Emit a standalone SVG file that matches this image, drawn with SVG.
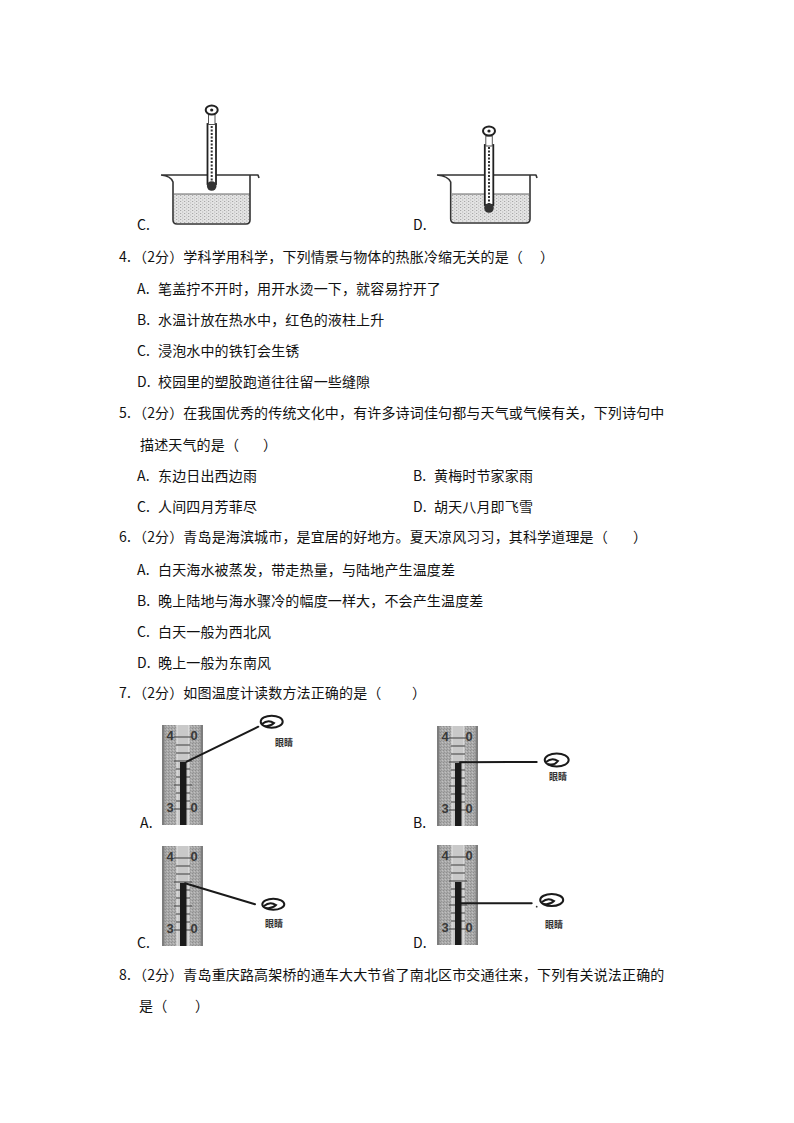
<svg xmlns="http://www.w3.org/2000/svg" width="794" height="1123" viewBox="0 0 794 1123">
<style>
.t{font-family:'Noto Sans CJK SC','Noto Sans CJK JP',sans-serif;font-size:14px;fill:#111;letter-spacing:0.15px}
.eye-l{font-family:'Noto Sans CJK SC',sans-serif;font-size:9px;font-weight:bold;fill:#333}
.dig{font-family:'Liberation Sans',sans-serif;font-size:13px;font-weight:bold;fill:#3a3a3a}
.ln{stroke:#1a1a1a;stroke-width:2;fill:none;stroke-linecap:round}
.eye{stroke:#1a1a1a;stroke-width:2;fill:none}
.bk{stroke:#333;stroke-width:1.6;fill:none;stroke-linejoin:round}
</style>
<defs>
<pattern id="liq" width="4" height="3" patternUnits="userSpaceOnUse">
<rect width="4" height="3" fill="#e4e4e4"/>
<rect x="0" y="0" width="1.2" height="1" fill="#a8a8a8"/>
<rect x="2" y="1.5" width="1.2" height="1" fill="#b8b8b8"/>
</pattern>
<pattern id="grain" width="3" height="3" patternUnits="userSpaceOnUse">
<rect width="3" height="3" fill="#a9a9a9"/>
<rect x="0" y="0" width="1" height="1" fill="#8e8e8e"/>
<rect x="2" y="1" width="1" height="1" fill="#c0c0c0"/>
<rect x="1" y="2" width="1" height="1" fill="#969696"/>
</pattern>
<g id="strip">
<rect x="0" y="0" width="41" height="100" fill="url(#grain)"/>
<rect x="0" y="0" width="2.5" height="100" fill="#7d7d7d"/>
<rect x="38.5" y="0" width="2.5" height="100" fill="#7d7d7d"/>
<rect x="15" y="0" width="12" height="100" fill="#c9c9c9"/>
<line x1="15" y1="0" x2="15" y2="100" stroke="#e6e6e6" stroke-width="1"/>
<line x1="27" y1="0" x2="27" y2="100" stroke="#e6e6e6" stroke-width="1"/>
<g stroke="#555" stroke-width="1.2">
<line x1="12" y1="12" x2="30" y2="12"/>
<line x1="14" y1="20" x2="28" y2="20"/>
<line x1="14" y1="28" x2="28" y2="28"/>
<line x1="12" y1="36" x2="30" y2="36"/>
<line x1="14" y1="44" x2="28" y2="44"/>
<line x1="14" y1="52" x2="28" y2="52"/>
<line x1="12" y1="60" x2="30" y2="60"/>
<line x1="14" y1="68" x2="28" y2="68"/>
<line x1="14" y1="76" x2="28" y2="76"/>
<line x1="12" y1="84" x2="30" y2="84"/>
</g>
<rect x="18" y="37" width="6.5" height="63" fill="#1a1a1a"/>
<text class="dig" x="4.5" y="15">4</text>
<text class="dig" x="28.5" y="15">0</text>
<text class="dig" x="4.5" y="87">3</text>
<text class="dig" x="28.5" y="87">0</text>
</g>
</defs>

<g id="fig-beaker-C">
<rect x="174" y="194" width="76" height="29" fill="url(#liq)"/>
<line x1="174" y1="194" x2="250" y2="194" stroke="#666" stroke-width="1"/>
<path class="bk" d="M161,175 L258,175 L259,178 M161,175 Q171,176 173,182 L173,220 Q173,224 177,224 L246,224 Q250,224 250,220 L250,175"/>
<g id="thermo-C">
<rect x="207.5" y="124" width="8.5" height="60" fill="#fff" stroke="#222" stroke-width="1.8"/>
<line x1="211.7" y1="126" x2="211.7" y2="182" stroke="#333" stroke-width="2" stroke-dasharray="2,1.5"/>
<rect x="208.5" y="114.5" width="6.5" height="10" fill="#fff" stroke="#555" stroke-width="1"/>
<ellipse cx="211.7" cy="110" rx="6" ry="4.5" fill="#fff" stroke="#222" stroke-width="2"/>
<circle cx="211.7" cy="110" r="1.6" fill="#222"/>
<circle cx="211.7" cy="186" r="4.8" fill="#333"/>
</g>
<text class="t" x="137" y="230">C.</text>
</g>

<g id="fig-beaker-D">
<rect x="452" y="194" width="77" height="28" fill="url(#liq)"/>
<line x1="452" y1="194" x2="529" y2="194" stroke="#666" stroke-width="1"/>
<path class="bk" d="M437,175 L536,175 L537,178 M437,175 Q448,176 450.7,182 L450.7,219 Q450.7,223 455,223 L526,223 Q530,223 530,219 L530,175"/>
<g id="thermo-D">
<rect x="484.8" y="145" width="8.5" height="60" fill="#fff" stroke="#222" stroke-width="1.8"/>
<line x1="489" y1="147" x2="489" y2="204" stroke="#333" stroke-width="2" stroke-dasharray="2,1.5"/>
<rect x="485.8" y="136" width="6.5" height="10" fill="#fff" stroke="#555" stroke-width="1"/>
<ellipse cx="489" cy="131" rx="6" ry="4.5" fill="#fff" stroke="#222" stroke-width="2"/>
<circle cx="489" cy="131" r="1.6" fill="#222"/>
<circle cx="489" cy="208" r="4.8" fill="#333"/>
</g>
<text class="t" x="413" y="230">D.</text>
</g>

<g id="q4">
<text class="t" y="262"><tspan x="119">4.</tspan><tspan x="133">（2分）学科学用科学，下列情景与物体的热胀冷缩无关的是（</tspan><tspan x="540">）</tspan></text>
<text class="t" y="294"><tspan x="137">A.</tspan><tspan x="158">笔盖拧不开时，用开水烫一下，就容易拧开了</tspan></text>
<text class="t" y="325"><tspan x="137">B.</tspan><tspan x="158">水温计放在热水中，红色的液柱上升</tspan></text>
<text class="t" y="356"><tspan x="137">C.</tspan><tspan x="158">浸泡水中的铁钉会生锈</tspan></text>
<text class="t" y="387"><tspan x="137">D.</tspan><tspan x="158">校园里的塑胶跑道往往留一些缝隙</tspan></text>
</g>

<g id="q5">
<text class="t" y="418"><tspan x="119">5.</tspan><tspan x="133">（2分）在我国优秀的传统文化中，有许多诗词佳句都与天气或气候有关，下列诗句中</tspan></text>
<text class="t" y="450"><tspan x="140">描述天气的是（</tspan><tspan x="263">）</tspan></text>
<text class="t" y="481"><tspan x="137">A.</tspan><tspan x="158">东边日出西边雨</tspan></text>
<text class="t" y="481"><tspan x="413">B.</tspan><tspan x="434">黄梅时节家家雨</tspan></text>
<text class="t" y="512"><tspan x="137">C.</tspan><tspan x="158">人间四月芳菲尽</tspan></text>
<text class="t" y="512"><tspan x="413">D.</tspan><tspan x="434">胡天八月即飞雪</tspan></text>
</g>

<g id="q6">
<text class="t" y="542"><tspan x="119">6.</tspan><tspan x="133">（2分）青岛是海滨城市，是宜居的好地方。夏天凉风习习，其科学道理是（</tspan><tspan x="633">）</tspan></text>
<text class="t" y="575"><tspan x="137">A.</tspan><tspan x="158">白天海水被蒸发，带走热量，与陆地产生温度差</tspan></text>
<text class="t" y="606"><tspan x="137">B.</tspan><tspan x="158">晚上陆地与海水骤冷的幅度一样大，不会产生温度差</tspan></text>
<text class="t" y="637"><tspan x="137">C.</tspan><tspan x="158">白天一般为西北风</tspan></text>
<text class="t" y="668"><tspan x="137">D.</tspan><tspan x="158">晚上一般为东南风</tspan></text>
</g>

<g id="q7">
<text class="t" y="698"><tspan x="119">7.</tspan><tspan x="133">（2分）如图温度计读数方法正确的是（</tspan><tspan x="412">）</tspan></text>
</g>

<g id="fig-A">
<use href="#strip" transform="translate(162,725)"/>
<ellipse class="eye" cx="271.7" cy="721.7" rx="11" ry="6"/>
<path class="eye" stroke-width="1.5" d="M262,724 Q268,719 274,723 Q270,727 264,726"/>
<text class="eye-l" x="275" y="746">眼睛</text>
<text class="t" x="140" y="828">A.</text>
</g>
<g id="fig-B">
<use href="#strip" transform="translate(437,726)"/>
<ellipse class="eye" cx="556.7" cy="760" rx="12" ry="6.5"/>
<path class="eye" stroke-width="1.5" d="M546,762 Q552,757 558,761 Q554,766 548,764"/>
<text class="eye-l" x="549" y="780">眼睛</text>
<text class="t" x="413" y="828">B.</text>
</g>
<g id="fig-C">
<use href="#strip" transform="translate(162,846)"/>
<ellipse class="eye" cx="273.3" cy="904.3" rx="11" ry="5.5"/>
<path class="eye" stroke-width="1.5" d="M264,906 Q270,901 276,905 Q272,909 266,908"/>
<text class="eye-l" x="265" y="927">眼睛</text>
<text class="t" x="137" y="948">C.</text>
</g>
<g id="fig-D">
<use href="#strip" transform="translate(437,845)"/>
<ellipse class="eye" cx="551.7" cy="900" rx="11.5" ry="6"/>
<path class="eye" stroke-width="1.5" d="M542,902 Q548,897 554,901 Q550,905 544,904"/>
<circle cx="536.7" cy="906.7" r="0.9" fill="#333"/>
<text class="eye-l" x="545" y="928">眼睛</text>
<text class="t" x="413" y="948">D.</text>
</g>

<g id="connectors">
<line class="ln" x1="186.7" y1="761.7" x2="258.3" y2="726.7"/>
<line class="ln" x1="460" y1="762.3" x2="536.7" y2="762"/>
<line class="ln" x1="185" y1="883.3" x2="255" y2="904.3"/>
<line class="ln" x1="461" y1="903.3" x2="531.7" y2="903.3"/>
</g>

<g id="q8">
<text class="t" y="980"><tspan x="119">8.</tspan><tspan x="133">（2分）青岛重庆路高架桥的通车大大节省了南北区市交通往来，下列有关说法正确的</tspan></text>
<text class="t" y="1011"><tspan x="139">是（</tspan><tspan x="195">）</tspan></text>
</g>
</svg>
